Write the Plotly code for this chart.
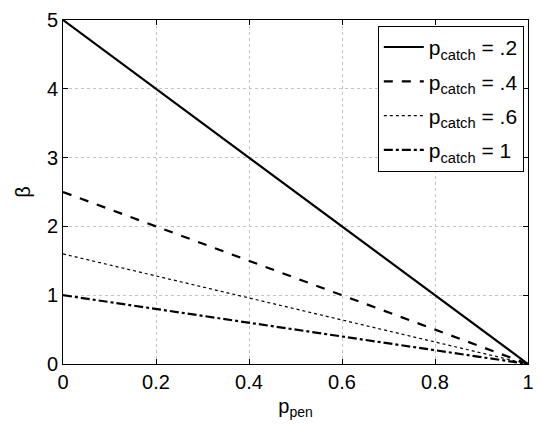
import plotly.graph_objects as go

p_pen = [0, 1]
beta_02 = [5, 0]
beta_04 = [2.5, 0]
beta_06 = [1.6, 0]
beta_10 = [1, 0]
labels = ["p<sub>catch</sub> = .2", "p<sub>catch</sub> = .4", "p<sub>catch</sub> = .6", "p<sub>catch</sub> = 1"]
x_ticks = [0, 0.2, 0.4, 0.6, 0.8, 1]
x_ticklabels = ["0", "0.2", "0.4", "0.6", "0.8", "1"]
y_ticks = [0, 1, 2, 3, 4, 5]

series = [beta_02, beta_04, beta_06, beta_10]
dashes = ["solid", "dash", "dot", "dashdot"]
widths = [2.2, 2.2, 1.2, 2.2]

fig = go.Figure()
for i, (ys, lab, d, w) in enumerate(zip(series, labels, dashes, widths)):
    fig.add_trace(go.Scatter(x=p_pen, y=ys, mode="lines", name=lab, legendgroup=f"g{i}",
                             line=dict(color="black", dash=d, width=w)))

font = "Liberation Sans, Arial, Helvetica, sans-serif"
fs = 20
axis_common = dict(showline=True, linecolor="black", linewidth=1, mirror="allticks",
                   ticks="inside", ticklen=5, tickcolor="black",
                   showgrid=True, gridcolor="#c4c4c4", griddash="dot", gridwidth=1,
                   zeroline=False, ticklabeloverflow="allow",
                   tickfont=dict(size=fs, color="black", family=font))

fig.update_xaxes(range=[0, 1], tickvals=x_ticks, ticktext=x_ticklabels,
                 title=dict(text="p<sub>pen</sub>", font=dict(size=fs, family=font, color="black"), standoff=6),
                 **axis_common)
fig.update_yaxes(range=[0, 5], tickvals=y_ticks,
                 title=dict(text="β", font=dict(size=fs, family=font, color="black"), standoff=10),
                 **axis_common)

fig.update_layout(
    width=543, height=434,
    margin=dict(l=63, r=11, t=9, b=70),
    plot_bgcolor="white", paper_bgcolor="white",
    font=dict(family=font, color="black", size=fs),
    legend=dict(x=0.991, y=0.983, xanchor="right", yanchor="top",
                bgcolor="white", bordercolor="black", borderwidth=1,
                font=dict(size=21, family=font, color="black"),
                tracegroupgap=4, itemwidth=40),
    showlegend=True,
)

fig.write_html("out.html")
